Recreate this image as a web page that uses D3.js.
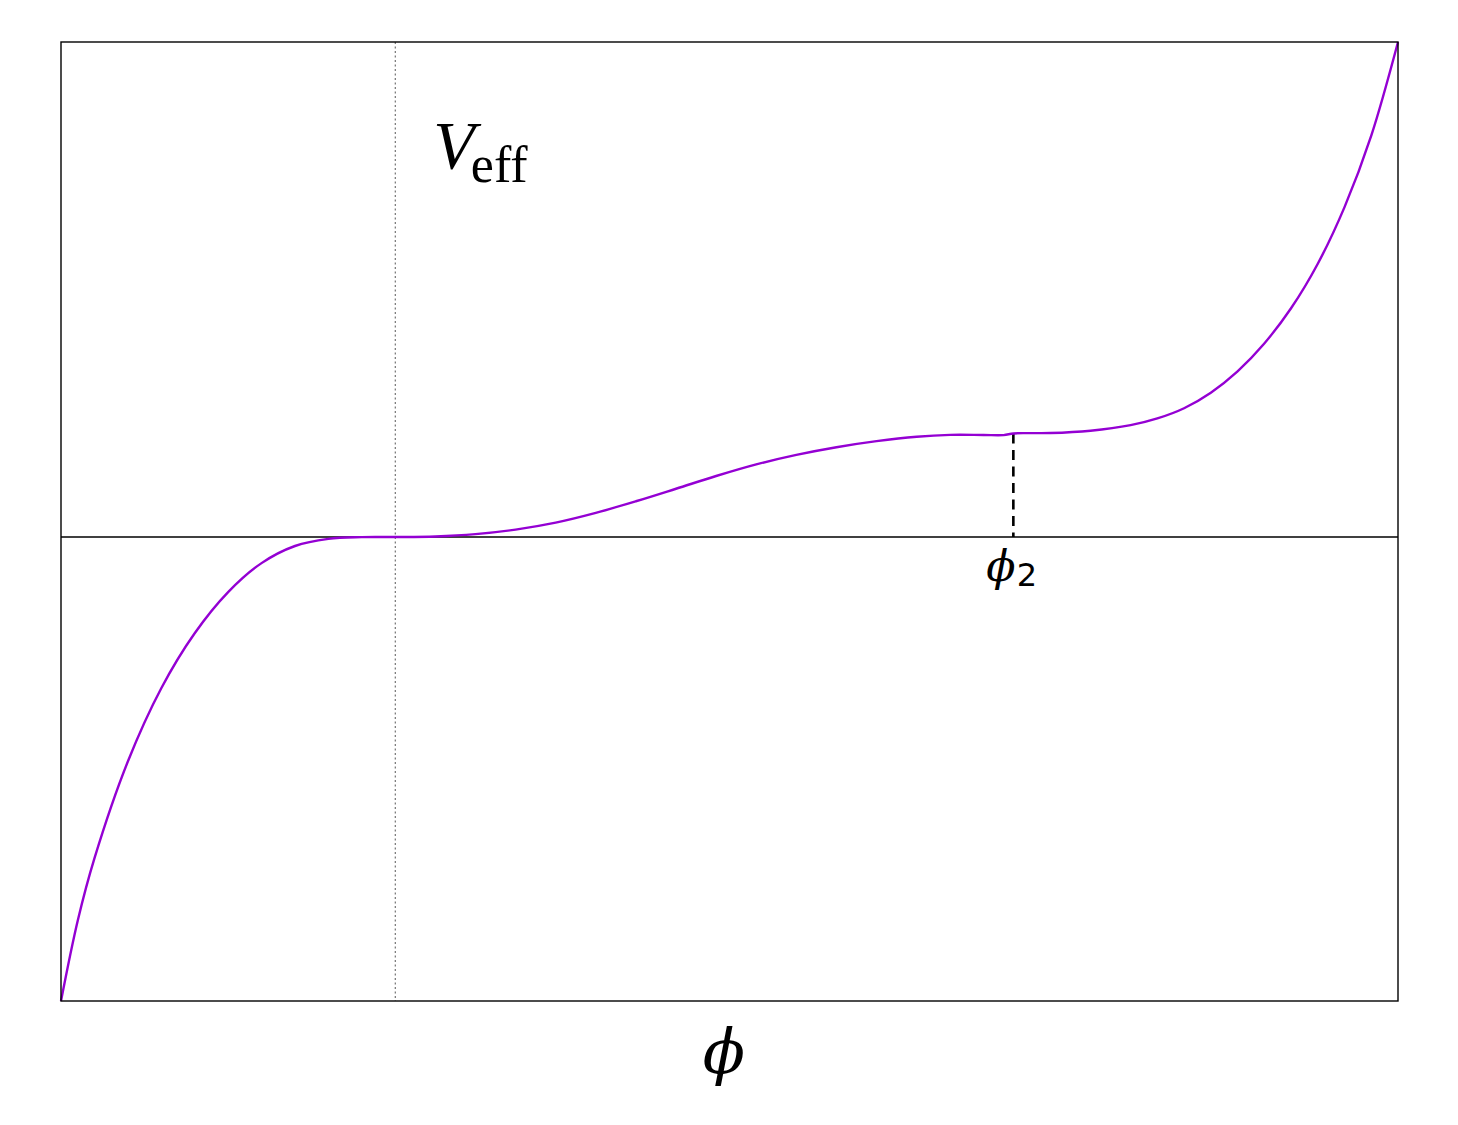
<!DOCTYPE html>
<html lang="en">
<head>
    <meta charset="UTF-8">
    <title>Effective potential</title>
    <script src="https://d3js.org/d3.v7.min.js"></script>
    <style>
        body {
            margin: 0;
            background: #ffffff;
        }
        svg text {
            fill: #000;
        }
    </style>
</head>
<body>
    <svg id="chart" width="1458" height="1125"></svg>

    <script>
        // phi (0..1) and V_eff, V_eff = 0 at the horizontal line
        const phiValues = [0, 0.0125, 0.025, 0.05, 0.075, 0.10, 0.125, 0.15, 0.175, 0.20,
            0.225, 0.25, 0.28, 0.31, 0.34, 0.37, 0.40, 0.43, 0.46, 0.49,
            0.52, 0.55, 0.58, 0.61, 0.64, 0.665, 0.69, 0.705, 0.7123, 0.725,
            0.74, 0.77, 0.80, 0.82, 0.84, 0.86, 0.88, 0.90, 0.92, 0.94,
            0.96, 0.98, 1.0];
        const vValues = [-1.0, -0.827, -0.6926, -0.4838, -0.3259, -0.2074, -0.1188, -0.0563, -0.0194, -0.004,
            -0.00025, 0, 0.0012, 0.0062, 0.016, 0.031, 0.052, 0.077, 0.104, 0.1315,
            0.1565, 0.177, 0.1935, 0.2065, 0.216, 0.22, 0.2198, 0.2196, 0.2232, 0.2238,
            0.224, 0.229, 0.241, 0.2555, 0.2775, 0.311, 0.357, 0.417, 0.493, 0.589,
            0.711, 0.865, 1.0668];

        const phiMin = 0.25;     // dotted vertical line (flat point)
        const phi2 = 0.7123;     // marked point
        const xDomain = [0, 1];
        const yDomain = [-1, 1.0668];

        const margin = {top: 42, right: 60, bottom: 124, left: 61};
        const width = 1458 - margin.left - margin.right;
        const height = 1125 - margin.top - margin.bottom;

        const svg = d3.select("#chart");
        const g = svg.append("g")
            .attr("transform", `translate(${margin.left},${margin.top})`);

        const x = d3.scaleLinear().domain(xDomain).range([0, width]);
        const y = d3.scaleLinear().domain(yDomain).range([height, 0]);

        const data = phiValues.map((p, i) => ({phi: p, v: vValues[i]}));

        // zero line
        g.append("line")
            .attr("x1", 0).attr("x2", width)
            .attr("y1", y(0)).attr("y2", y(0))
            .attr("stroke", "#000")
            .attr("stroke-width", 1.4);

        // dotted vertical at the flat point
        g.append("line")
            .attr("x1", x(phiMin)).attr("x2", x(phiMin))
            .attr("y1", 0).attr("y2", height)
            .attr("stroke", "#555")
            .attr("stroke-width", 1)
            .attr("stroke-dasharray", "2,2.5");

        // dashed marker at phi2
        const v2 = vValues[phiValues.indexOf(phi2)];
        g.append("line")
            .attr("x1", x(phi2)).attr("x2", x(phi2))
            .attr("y1", y(v2)).attr("y2", y(0))
            .attr("stroke", "#000")
            .attr("stroke-width", 2.6)
            .attr("stroke-dasharray", "10,6.5");

        const line = d3.line()
            .x(d => x(d.phi))
            .y(d => y(d.v))
            .curve(d3.curveCatmullRom.alpha(0.5));

        g.append("path")
            .datum(data)
            .attr("fill", "none")
            .attr("stroke", "#9400d3")
            .attr("stroke-width", 2.4)
            .attr("d", line);

        // frame
        g.append("rect")
            .attr("width", width)
            .attr("height", height)
            .attr("fill", "none")
            .attr("stroke", "#000")
            .attr("stroke-width", 1.4);

        // labels
        const veff = g.append("text")
            .attr("x", x(phiMin) + 38)
            .attr("y", 168 - margin.top)
            .style("font-family", "'Liberation Serif', 'DejaVu Serif', serif");
        veff.append("tspan")
            .style("font-style", "italic")
            .style("font-size", "68px")
            .text("V");
        veff.append("tspan")
            .attr("dy", 14)
            .attr("dx", -4)
            .style("font-size", "52px")
            .text("eff");

        const p2 = g.append("text")
            .attr("x", x(phi2) - 27)
            .attr("y", y(0) + 44)
            .style("font-family", "'DejaVu Serif', serif");
        p2.append("tspan")
            .style("font-style", "italic")
            .style("font-size", "43px")
            .text("ϕ");
        p2.append("tspan")
            .attr("dy", 5)
            .attr("dx", 1)
            .style("font-family", "'DejaVu Sans', sans-serif")
            .style("font-size", "32px")
            .text("2");

        svg.append("text")
            .attr("x", 724)
            .attr("y", 1073)
            .attr("text-anchor", "middle")
            .style("font-family", "'DejaVu Serif', serif")
            .style("font-style", "italic")
            .style("font-size", "62px")
            .text("ϕ");
    </script>
</body>
</html>
